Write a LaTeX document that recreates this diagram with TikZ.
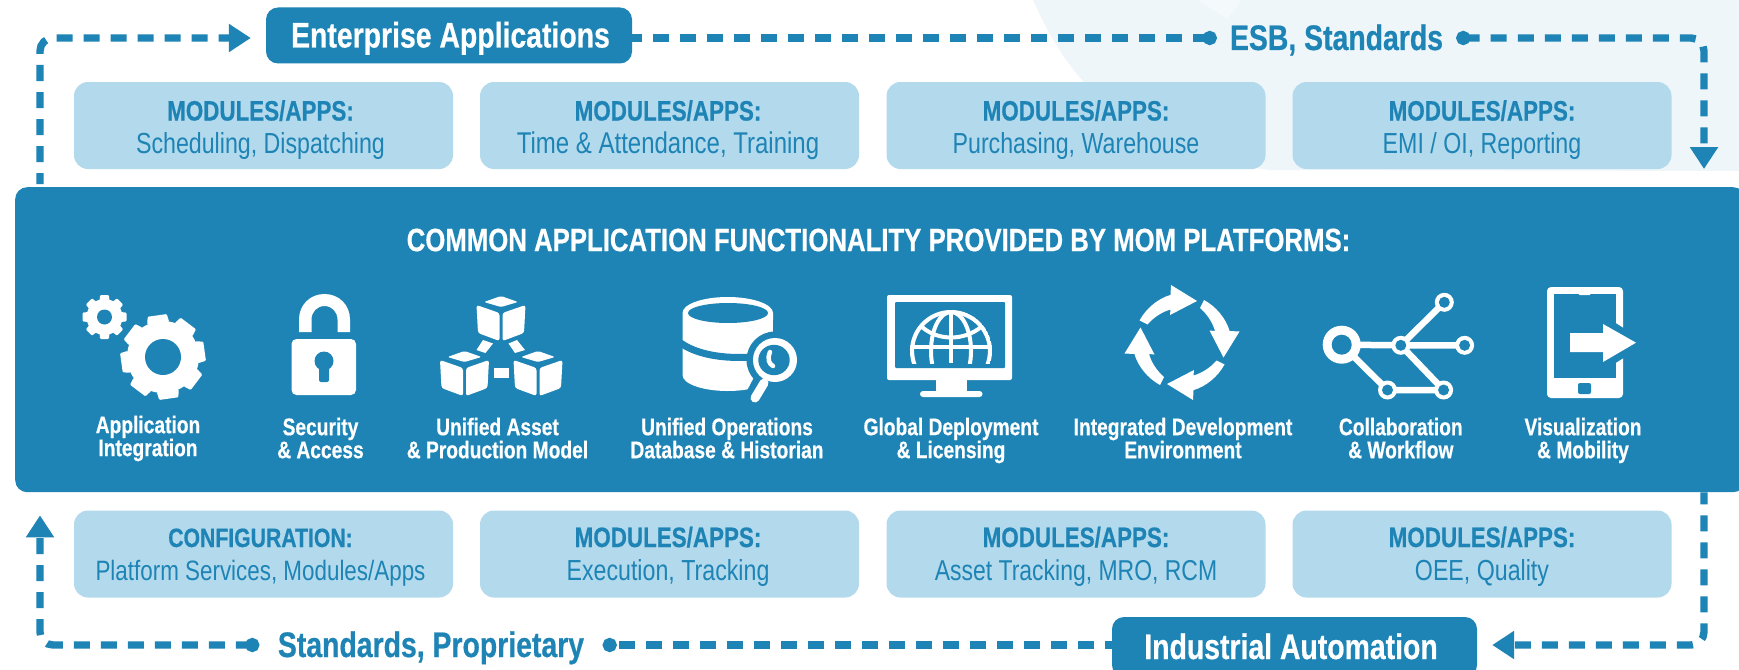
\documentclass[tikz,border=0pt]{standalone}
\usepackage{fontspec}
\usetikzlibrary{arrows.meta,calc}
\setmainfont{Liberation Sans}
\newfontfamily\bfc[FakeStretch=0.8,FakeBold=0.5,UprightFont=* Bold]{Liberation Sans}
\newfontfamily\rgc[FakeStretch=0.8]{Liberation Sans}
\definecolor{mainblue}{HTML}{1D84B5}
\definecolor{lightblue}{HTML}{B3D9EC}
\definecolor{paleblue}{HTML}{EEF6FA}
\definecolor{palerblue}{HTML}{F4F9FC}
\newcommand{\fsz}[1]{\fontsize{#1pt}{#1pt}\selectfont}
\newcommand{\icotxt}[2]{\rule{0pt}{16pt}#1\\\rule[-5pt]{0pt}{5pt}#2}
\tikzset{
  modbox/.style={fill=lightblue,rounded corners=14pt,minimum width=379pt,minimum height=87pt,inner sep=0pt,align=center,text=mainblue,font=\fontsize{28}{33}\selectfont},
  headbox/.style={fill=mainblue,rounded corners=12pt,inner sep=0pt,text=white,text height=24pt,text depth=0pt,font=\bfc\fsz{35.5}},
  openlabel/.style={inner sep=0pt,text=mainblue,text height=24pt,text depth=0pt,font=\bfc\fsz{35.5}},
  iconlabel/.style={inner sep=0pt,text=white,align=center,font=\bfc\fontsize{24}{23}\selectfont},
  flowline/.style={draw=mainblue,line width=7.4pt,dash pattern=on 16pt off 11pt,rounded corners=13pt},
  arrowend/.style={-{Triangle[length=22pt,width=27pt]}},
  dotend/.style={-{Circle[length=14pt]}},
  dotarrow/.style={{Circle[length=14pt]}-{Triangle[length=22pt,width=27pt]}},
  iconw/.style={fill=white,draw=none},
  iconb/.style={fill=mainblue,draw=none},
}
\newcommand{\gear}[7]{% x y bodyR outerR halfwidth holeR rot
  \fill[iconw] (#1,#2) circle[radius=#3];
  \foreach \g in {0,45,...,315}{
    \fill[iconw,shift={(#1,#2)},rotate=\g+#7,rounded corners=1pt] (-#5,-#3+2) -- (-#5*0.88,-#4) -- (#5*0.88,-#4) -- (#5,-#3+2) -- cycle;
  }
  \fill[iconb] (#1,#2) circle[radius=#6];
}
\newcommand{\cube}[2]{% x y offset relative to top cube
  \begin{scope}[shift={(#1,#2)}]
    \fill[iconw,rounded corners=1.5pt] (484,302) -- (501,296) -- (518,302) -- (501,307) -- cycle;
    \fill[iconw,rounded corners=2.5pt] (476.5,305) -- (499.5,313) -- (499.5,341) -- (478,333) -- cycle;
    \fill[iconw,rounded corners=2.5pt] (525.5,305) -- (502.5,313) -- (502.5,341) -- (524,333) -- cycle;
  \end{scope}
}
\begin{document}
\begin{tikzpicture}[x=1pt,y=-1pt]
\clip (0,0) rectangle (1739,669);
\fill[white] (0,0) rectangle (1739,669);
% pale background
\fill[paleblue] (1033,0) .. controls (1060,60) and (1110,150) .. (1270,170) -- (1739,171) -- (1739,0) -- cycle;
\fill[palerblue] (1198,0) -- (1241,0) -- (1239,5) -- (1227,19) -- cycle;
% main band
\node[fill=mainblue,rounded corners=12pt,minimum width=1730pt,minimum height=305pt,inner sep=0pt,anchor=north west] (main) at (15,187) {};
\node[inner sep=0pt,text=white,font=\bfc\fsz{32.2}] (title) at (878.5,240) {COMMON APPLICATION FUNCTIONALITY PROVIDED BY MOM PLATFORMS:};
% header boxes
\node[headbox,minimum width=366pt,minimum height=56pt] (ent) at (449,35.5) {\kern3pt Enterprise Applications};
\node[headbox,minimum width=365pt,minimum height=60pt] (ind) at (1294.5,647) {Industrial Automation\kern7pt};
\node[openlabel,minimum width=209pt] (esb) at (1336.5,38) {ESB, Standards};
\node[openlabel,minimum width=307pt] (std) at (431,645) {Standards, Proprietary};
% modules: name/x/y/head/sub/head size/sub size/kern/bottom depth
\foreach \nm/\cx/\cy/\ha/\hb/\sa/\sb/\kk/\dd in {
 ma/263.5/125.5/MODULES\slash APPS:/{Scheduling, Dispatching}/28/29/6/7,
 mb/669.5/125.5/MODULES\slash APPS:/{Time \& Attendance, Training}/28/30/3/7,
 mc/1076/125.5/MODULES\slash APPS:/{Purchasing, Warehouse}/28/29/0/7,
 md/1482/125.5/MODULES\slash APPS:/{EMI / OI, Reporting}/28/29/0/7,
 me/263.5/554/CONFIGURATION:/{Platform Services, Modules\slash Apps}/26.5/28/6/11,
 mf/669.5/554/MODULES\slash APPS:/{Execution, Tracking}/28/29/3/11,
 mg/1076/554/MODULES\slash APPS:/{Asset Tracking, MRO, RCM}/28/28.7/0/11,
 mh/1482/554/MODULES\slash APPS:/{OEE, Quality}/28/29/0/11}{
  \node[modbox] (\nm) at (\cx,\cy) {{\bfc\fsz{\sa}\rule{0pt}{30pt}\ha\kern\kk pt}\\{\rgc\fsz{\sb}\rule[-\dd pt]{0pt}{\dd pt}\hb\kern\kk pt}};
}
% corner coordinates
\coordinate (tl) at (40,38);
\coordinate (tr) at (1704,38);
% connectors
\draw[flowline,arrowend,dash phase=5pt,shorten <=3pt,shorten >=15pt] (main.north -| tl) |- ([yshift=-2.5pt]ent.west);
\draw[flowline,dotend,dash phase=6pt,shorten >=13pt] ([yshift=-2.5pt]ent.east) -- (esb.west);
\draw[flowline,dotarrow,dash phase=3pt,shorten <=13pt,shorten >=18pt] (esb.east) -| (main.north -| tr);
\draw[flowline,arrowend,dash phase=4pt,shorten >=15pt] (main.south -| tr) |- ([yshift=2pt]ind.east);
\draw[flowline,dotend,dash phase=9pt,shorten >=18pt] ([yshift=2pt]ind.west) -- (std.east);
\draw[flowline,dotarrow,dash phase=3pt,shorten <=18pt,shorten >=23pt] (std.west) -| (main.south -| tl);
% icon labels
\node[iconlabel] (la) at (148,438.5) {\icotxt{Application}{Integration}};
\node[iconlabel] (lb) at (320.5,440.5) {\icotxt{Security}{\& Access}};
\node[iconlabel] (lc) at (497.5,440.5) {\icotxt{Unified Asset}{\& Production Model}};
\node[iconlabel] (ld) at (727,440.5) {\icotxt{Unified Operations}{Database \& Historian}};
\node[iconlabel] (le) at (951,440.5) {\icotxt{Global Deployment}{\& Licensing}};
\node[iconlabel] (lf) at (1183,440.5) {\icotxt{Integrated Development}{Environment}};
\node[iconlabel] (lg) at (1400.8,440.5) {\icotxt{Collaboration}{\& Workflow}};
\node[iconlabel] (lh) at (1583,440.5) {\icotxt{Visualization}{\& Mobility}};
% gears
\gear{104.5}{317}{18}{22}{5}{7.5}{0}
\gear{163}{357}{36}{42}{11}{18}{8}
% lock
\fill[iconw,rounded corners=5pt] (291.5,339) rectangle (356,395);
\fill[iconw] (299,332) -- (299,319.5) .. controls (299,305) and (310,294) .. (324.5,294) .. controls (339,294) and (350,305) .. (350,319.5) -- (350,332) -- (337.5,332) -- (337.5,319.5) .. controls (337.5,312) and (332,306) .. (324.5,306) .. controls (317,306) and (311.5,312) .. (311.5,319.5) -- (311.5,332) -- cycle;
\fill[iconb] (324,361) circle[radius=9.5];
\fill[iconb,rounded corners=2pt] (319,362) rectangle (329,382);
% cubes
\cube{0}{0}
\cube{-36.5}{55}
\cube{37}{55}
\fill[iconw] (483,340) -- (493,343.5) -- (485.5,353) -- (476.5,350) -- cycle;
\fill[iconw] (508.5,343.5) -- (517,340) -- (525,350) -- (515,353) -- cycle;
\fill[iconw] (494,368) rectangle (509,378);
% database
\fill[iconw] (682.5,313) -- (682.5,375) .. controls (682.5,384) and (703,391) .. (727.75,391) .. controls (752,391) and (773,384) .. (773,375) -- (773,313) .. controls (773,304) and (752,297) .. (727.75,297) .. controls (703,297) and (682.5,304) .. (682.5,313) -- cycle;
\fill[iconb] (728,313) ellipse[x radius=40,y radius=10];
\draw[mainblue,line width=7pt] (678,341) .. controls (695,355) and (725,359) .. (752,357);
\fill[iconb] (775,360) circle[radius=28.5];
\draw[mainblue,line width=22pt] (764,382) -- (752,405);
\fill[iconb] (773,320) rectangle (800,332);
\fill[iconw] (775,360) circle[radius=22];
\fill[iconb] (774,360) ellipse[x radius=15.7,y radius=15.2];
\draw[white,line width=4.5pt,line cap=round] (770,352) .. controls (767,359) and (769,364) .. (773,366);
\draw[white,line width=9pt,line cap=round] (764,383) -- (755,398);
% monitor
\fill[iconw,rounded corners=2pt] (887,295) rectangle (1012,380);
\fill[iconb,rounded corners=1pt] (895,302) rectangle (1005,368);
\fill[iconw] (936,379) rectangle (967,392);
\fill[iconw,rounded corners=3pt] (920,391) rectangle (982.5,397);
\begin{scope}
  \clip (900,305) rectangle (1000,363);
  \clip (951,351) circle[radius=41];
  \draw[white,line width=4.2pt] (951,351) circle[radius=39];
  \draw[white,line width=4pt] (951,351) ellipse[x radius=20,y radius=39];
  \draw[white,line width=4pt] (951,310) -- (951,363);
  \draw[white,line width=4pt] (905,347) -- (995,347);
  \draw[white,line width=4pt] (922,327) .. controls (938,341) and (964,341) .. (981,327);
\end{scope}
% cycle
\foreach \a in {0,90,180,270}{
  \fill[iconw,shift={(1182,342.5)},rotate=-\a] (15,-41.5) -- (-11,-57.5) -- (-11.5,-47.6) .. controls (-24,-44) and (-36,-34) .. (-42.5,-22) -- (-34.5,-18) .. controls (-28,-25.5) and (-20,-30.5) .. (-11.5,-33) -- (-12,-27.5) -- cycle;
}
% collaboration
\draw[white,line width=6.5pt] (1341.7,344.7) -- (1400.8,345.3) -- (1444.3,302.3) (1400.8,345.3) -- (1464.6,345.3) (1400.8,345.3) -- (1443.6,390) -- (1387.5,390) -- (1341.7,344.7);
\fill[iconw] (1341.7,344.7) circle[radius=19];
\fill[iconb] (1341.7,344.7) circle[radius=10];
\foreach \cx/\cy in {1400.8/345.3,1444.3/302.3,1464.6/345.3,1387.5/390,1443.6/390}{
  \fill[iconw] (\cx,\cy) circle[radius=9.5];
  \fill[iconb] (\cx,\cy) circle[radius=5.5];
}
% phone
\fill[iconw,rounded corners=4pt] (1547,287) rectangle (1623,398);
\fill[iconb] (1554,294) rectangle (1616,378);
\fill[iconw,rounded corners=1.5pt] (1578,291) rectangle (1591,295);
\fill[iconb,rounded corners=2pt] (1578,383) rectangle (1591,394);
\fill[iconb] (1614,322) -- (1625,329) -- (1625,357) -- (1614,364) -- cycle;
\fill[iconw] (1570,333) -- (1603,333) -- (1603,324) -- (1636,342.7) -- (1603,362) -- (1603,352) -- (1570,352) -- cycle;
\end{tikzpicture}
\end{document}
